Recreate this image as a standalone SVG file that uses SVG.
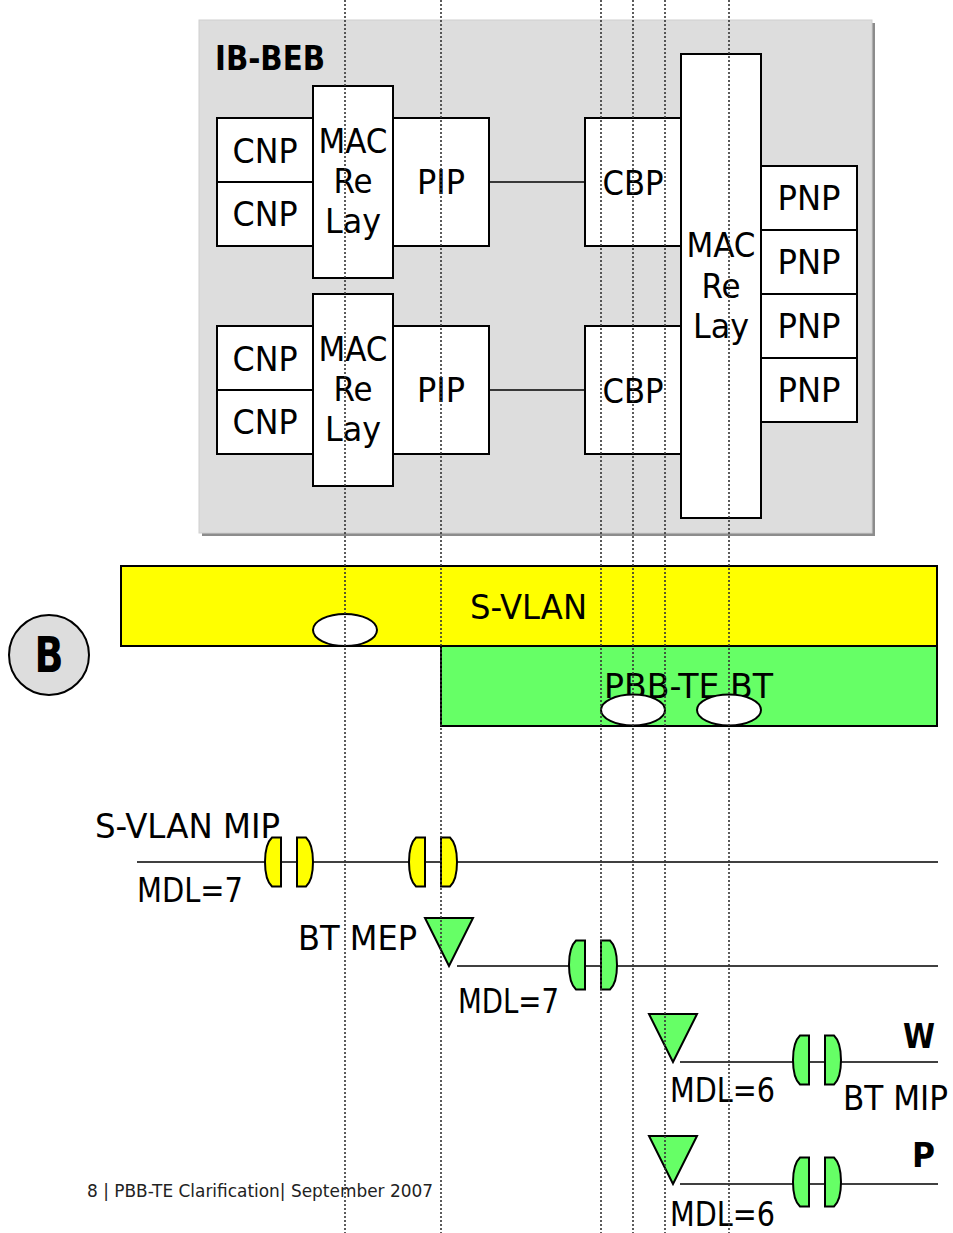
<svg xmlns="http://www.w3.org/2000/svg" xmlns:xlink="http://www.w3.org/1999/xlink" width="953" height="1233" viewBox="0 0 953 1233">
<style>
.box{fill:#fff;stroke:#000;stroke-width:2}
.t{font-family:"DejaVu Sans Condensed","DejaVu Sans",sans-serif;font-size:34px;fill:#000}
.c{text-anchor:middle}
.b{font-weight:bold}
.dot{stroke:#333;stroke-width:1.6;stroke-dasharray:2 2;fill:none}
.ln{stroke:#000;stroke-width:1.6;fill:none}
.ell{fill:#fff;stroke:#000;stroke-width:2}
.tri{fill:#66ff66;stroke:#000;stroke-width:2}
</style>
<defs>
<g id="mip" stroke="#000" stroke-width="2">
<path d="M -8 -24.5 L -17 -24.5 Q -24 -18 -24 0 Q -24 18 -17 24.5 L -8 24.5 Z"/>
<path d="M 8 -24.5 L 17 -24.5 Q 24 -18 24 0 Q 24 18 17 24.5 L 8 24.5 Z"/>
</g>
<polygon id="mep" points="-24,0 24,0 0,48"/>
</defs>
<rect width="953" height="1233" fill="#fff"/>

<g id="ib-beb">
<rect x="202" y="23" width="673" height="513" fill="#8c8c8c"/>
<rect x="199" y="20" width="673" height="513" fill="#dddddd" stroke="#cfcfcf" stroke-width="1"/>
<text class="t b" x="215" y="70" textLength="110" lengthAdjust="spacingAndGlyphs">IB-BEB</text>
</g>

<g id="connectors">
<line class="ln" x1="489" y1="182" x2="585" y2="182"/>
<line class="ln" x1="489" y1="390" x2="585" y2="390"/>
<line class="ln" x1="137" y1="862" x2="938" y2="862"/>
<line class="ln" x1="457" y1="966" x2="938" y2="966"/>
<line class="ln" x1="680" y1="1062" x2="938" y2="1062"/>
<line class="ln" x1="680" y1="1184" x2="938" y2="1184"/>
</g>

<g id="cnp1"><rect class="box" x="217" y="118" width="96" height="64"/><text class="t c" x="265" y="163" textLength="65" lengthAdjust="spacingAndGlyphs">CNP</text></g>
<g id="cnp2"><rect class="box" x="217" y="182" width="96" height="64"/><text class="t c" x="265" y="226" textLength="65" lengthAdjust="spacingAndGlyphs">CNP</text></g>
<g id="relay1"><rect class="box" x="313" y="86" width="80" height="192"/>
<text class="t c" x="353" y="153" textLength="69" lengthAdjust="spacingAndGlyphs">MAC</text>
<text class="t c" x="353" y="193" textLength="39" lengthAdjust="spacingAndGlyphs">Re</text>
<text class="t c" x="353" y="233" textLength="56" lengthAdjust="spacingAndGlyphs">Lay</text></g>
<g id="pip1"><rect class="box" x="393" y="118" width="96" height="128"/><text class="t c" x="441" y="194" textLength="48" lengthAdjust="spacingAndGlyphs">PIP</text></g>
<g id="cbp1"><rect class="box" x="585" y="118" width="96" height="128"/><text class="t c" x="633" y="195" textLength="61" lengthAdjust="spacingAndGlyphs">CBP</text></g>

<g id="cnp3"><rect class="box" x="217" y="326" width="96" height="64"/><text class="t c" x="265" y="371" textLength="65" lengthAdjust="spacingAndGlyphs">CNP</text></g>
<g id="cnp4"><rect class="box" x="217" y="390" width="96" height="64"/><text class="t c" x="265" y="434" textLength="65" lengthAdjust="spacingAndGlyphs">CNP</text></g>
<g id="relay2"><rect class="box" x="313" y="294" width="80" height="192"/>
<text class="t c" x="353" y="361" textLength="69" lengthAdjust="spacingAndGlyphs">MAC</text>
<text class="t c" x="353" y="401" textLength="39" lengthAdjust="spacingAndGlyphs">Re</text>
<text class="t c" x="353" y="441" textLength="56" lengthAdjust="spacingAndGlyphs">Lay</text></g>
<g id="pip2"><rect class="box" x="393" y="326" width="96" height="128"/><text class="t c" x="441" y="402" textLength="48" lengthAdjust="spacingAndGlyphs">PIP</text></g>
<g id="cbp2"><rect class="box" x="585" y="326" width="96" height="128"/><text class="t c" x="633" y="403" textLength="61" lengthAdjust="spacingAndGlyphs">CBP</text></g>

<g id="relay3"><rect class="box" x="681" y="54" width="80" height="464"/>
<text class="t c" x="721" y="257" textLength="69" lengthAdjust="spacingAndGlyphs">MAC</text>
<text class="t c" x="721" y="298" textLength="39" lengthAdjust="spacingAndGlyphs">Re</text>
<text class="t c" x="721" y="338" textLength="56" lengthAdjust="spacingAndGlyphs">Lay</text></g>
<g id="pnp1"><rect class="box" x="761" y="166" width="96" height="64"/><text class="t c" x="809" y="210" textLength="63" lengthAdjust="spacingAndGlyphs">PNP</text></g>
<g id="pnp2"><rect class="box" x="761" y="230" width="96" height="64"/><text class="t c" x="809" y="274" textLength="63" lengthAdjust="spacingAndGlyphs">PNP</text></g>
<g id="pnp3"><rect class="box" x="761" y="294" width="96" height="64"/><text class="t c" x="809" y="338" textLength="63" lengthAdjust="spacingAndGlyphs">PNP</text></g>
<g id="pnp4"><rect class="box" x="761" y="358" width="96" height="64"/><text class="t c" x="809" y="402" textLength="63" lengthAdjust="spacingAndGlyphs">PNP</text></g>

<g id="svlan"><rect x="121" y="566" width="816" height="80" fill="#ffff00" stroke="#000" stroke-width="2"/>
<text class="t" x="470" y="619" textLength="117" lengthAdjust="spacingAndGlyphs">S-VLAN</text>
<ellipse class="ell" cx="345" cy="630" rx="32" ry="16"/></g>
<g id="pbbte"><rect x="441" y="646" width="496" height="80" fill="#66ff66" stroke="#000" stroke-width="2"/>
<text class="t" x="604" y="698" textLength="169" lengthAdjust="spacingAndGlyphs">PBB-TE BT</text>
<ellipse class="ell" cx="633" cy="710" rx="32" ry="15.5"/>
<ellipse class="ell" cx="729" cy="710" rx="32" ry="15.5"/></g>

<g id="badge"><circle cx="49" cy="655" r="40" fill="#dddddd" stroke="#000" stroke-width="2"/>
<text class="t c b" x="49" y="672" style="font-size:50px" textLength="29" lengthAdjust="spacingAndGlyphs">B</text></g>

<g id="svlan-mip">
<text class="t" x="95" y="838" textLength="185" lengthAdjust="spacingAndGlyphs">S-VLAN MIP</text>
<text class="t" x="137" y="902" textLength="106" lengthAdjust="spacingAndGlyphs">MDL=7</text>
<use xlink:href="#mip" href="#mip" x="289" y="862" fill="#ffff00"/>
<use xlink:href="#mip" href="#mip" x="433" y="862" fill="#ffff00"/>
</g>
<g id="bt-mep">
<text class="t" x="298" y="950" textLength="119" lengthAdjust="spacingAndGlyphs">BT MEP</text>
<use xlink:href="#mep" href="#mep" class="tri" x="449" y="918"/>
<text class="t" x="458" y="1013" textLength="101" lengthAdjust="spacingAndGlyphs">MDL=7</text>
<use xlink:href="#mip" href="#mip" x="593" y="965" fill="#66ff66"/>
</g>
<g id="w-path">
<use xlink:href="#mep" href="#mep" class="tri" x="673" y="1014"/>
<text class="t b" x="903" y="1048" textLength="32" lengthAdjust="spacingAndGlyphs">W</text>
<text class="t" x="670" y="1102" textLength="105" lengthAdjust="spacingAndGlyphs">MDL=6</text>
<use xlink:href="#mip" href="#mip" x="817" y="1060" fill="#66ff66"/>
<text class="t" x="843" y="1110" textLength="105" lengthAdjust="spacingAndGlyphs">BT MIP</text>
</g>
<g id="p-path">
<use xlink:href="#mep" href="#mep" class="tri" x="673" y="1136"/>
<text class="t b" x="912" y="1167" textLength="23" lengthAdjust="spacingAndGlyphs">P</text>
<text class="t" x="670" y="1226" textLength="105" lengthAdjust="spacingAndGlyphs">MDL=6</text>
<use xlink:href="#mip" href="#mip" x="817" y="1182" fill="#66ff66"/>
</g>

<text x="87" y="1197" style="font-family:'DejaVu Sans Condensed','DejaVu Sans',sans-serif;font-size:17px;fill:#222" textLength="346" lengthAdjust="spacingAndGlyphs">8 | PBB-TE Clarification| September 2007</text>

<g id="guides">
<line class="dot" x1="345" y1="0" x2="345" y2="1233"/>
<line class="dot" x1="441" y1="0" x2="441" y2="1233"/>
<line class="dot" x1="601" y1="0" x2="601" y2="1233"/>
<line class="dot" x1="633" y1="0" x2="633" y2="1233"/>
<line class="dot" x1="665" y1="0" x2="665" y2="1233"/>
<line class="dot" x1="729" y1="0" x2="729" y2="1233"/>
</g>
</svg>
